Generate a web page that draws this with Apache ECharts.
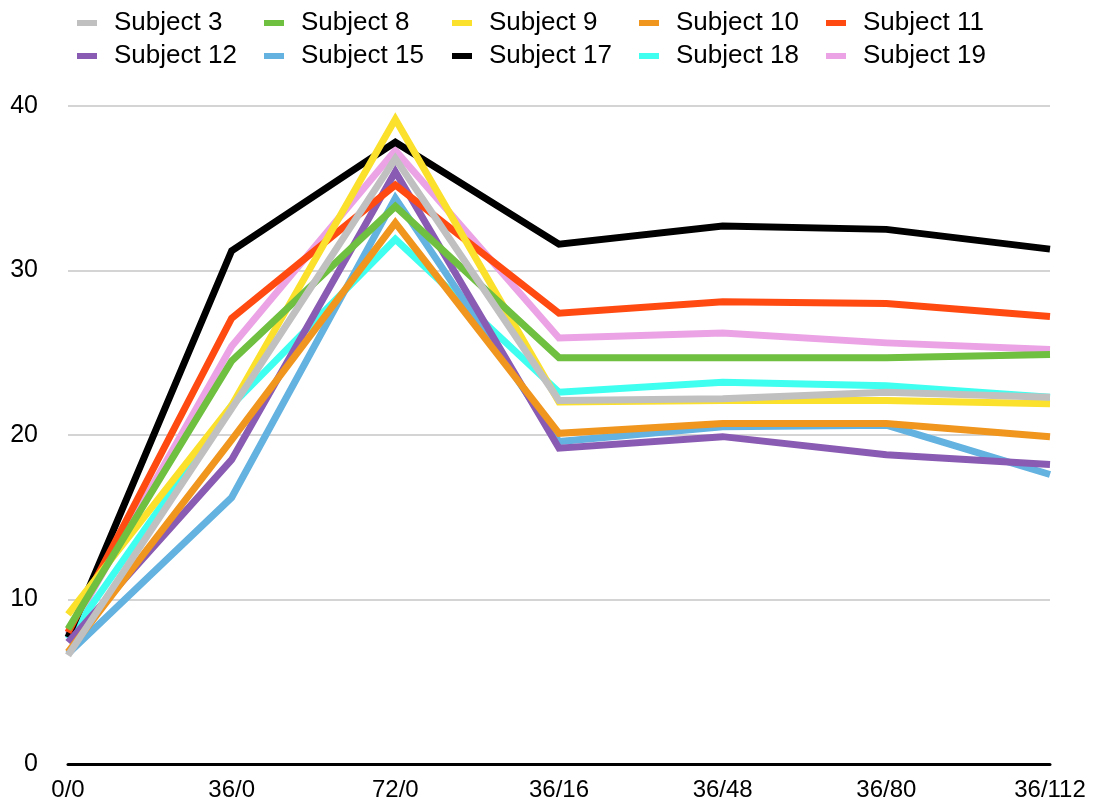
<!DOCTYPE html>
<html>
<head>
<meta charset="utf-8">
<title>Subjects</title>
<script src="https://cdn.jsdelivr.net/npm/echarts@6/dist/echarts.min.js"></script>
<style>
  html, body { margin: 0; padding: 0; background: #ffffff; }
  #chart { width: 1097px; height: 806px; }
</style>
</head>
<body>
<div id="chart"></div>
<script>
// Time points (x axis)
const categories = ['0/0', '36/0', '72/0', '36/16', '36/48', '36/80', '36/112'];

// Y axis ticks
const yTicks = [0, 10, 20, 30, 40];

// Per-subject values
const subject3  = [6.6, 21.6, 36.8, 22.1, 22.2, 22.6, 22.3];
const subject8  = [8.2, 24.5, 33.9, 24.7, 24.7, 24.7, 24.9];
const subject9  = [9.1, 21.8, 39.2, 22.0, 22.1, 22.1, 21.9];
const subject10 = [6.8, 19.7, 32.9, 20.1, 20.7, 20.7, 19.9];
const subject11 = [8.0, 27.1, 35.2, 27.4, 28.1, 28.0, 27.2];
const subject12 = [7.4, 18.5, 36.0, 19.2, 19.9, 18.8, 18.2];
const subject15 = [6.7, 16.2, 34.4, 19.6, 20.5, 20.6, 17.6];
const subject17 = [7.7, 31.2, 37.8, 31.6, 32.7, 32.5, 31.3];
const subject18 = [7.6, 21.8, 31.9, 22.6, 23.2, 23.0, 22.3];
const subject19 = [7.9, 25.4, 37.3, 25.9, 26.2, 25.6, 25.2];

const names = ['Subject 3', 'Subject 8', 'Subject 9', 'Subject 10', 'Subject 11',
               'Subject 12', 'Subject 15', 'Subject 17', 'Subject 18', 'Subject 19'];
const values = [subject3, subject8, subject9, subject10, subject11,
                subject12, subject15, subject17, subject18, subject19];
const colors = ['#c0c0c0', '#6fbf40', '#fbe02c', '#f0951e', '#ff4a12',
                '#8a5bb2', '#63b2e0', '#000000', '#3ffff0', '#eba3e5'];

const FONT = '"Liberation Sans", Arial, Helvetica, sans-serif';

// One legend per entry so the two rows line up in fixed columns
const legendCols = [77, 264, 452, 639, 826];
const legendRows = [9, 42];
const legends = names.map((name, i) => ({
  data: [name],
  left: legendCols[i % 5],
  top: legendRows[Math.floor(i / 5)],
  padding: 0,
  icon: 'rect',
  itemWidth: 20,
  itemHeight: 6,
  selectedMode: true,
  textStyle: {
    fontFamily: FONT,
    fontSize: 26,
    color: '#000000',
    lineHeight: 28,
    padding: [0, 0, 0, 12]
  }
}));

// Earlier subjects are drawn on top of later ones
const series = names.map((name, i) => ({
  name: name,
  type: 'line',
  data: values[i],
  z: 30 - i,
  symbol: 'none',
  showSymbol: false,
  color: colors[i],
  lineStyle: { width: 7, color: colors[i], join: 'miter', cap: 'butt' },
  emphasis: { disabled: true },
  animation: false
}));

const chart = echarts.init(document.getElementById('chart'), null, { renderer: 'canvas' });
chart.setOption({
  backgroundColor: '#ffffff',
  animation: false,
  legend: legends,
  grid: { left: 68, right: 47, top: 106, bottom: 42, containLabel: false },
  xAxis: {
    type: 'category',
    data: categories,
    boundaryGap: false,
    axisLine: { show: true, lineStyle: { color: '#000000', width: 3 } },
    axisTick: { show: false },
    axisLabel: { fontFamily: FONT, fontSize: 24, color: '#000000', margin: 14, interval: 0 },
    splitLine: { show: false }
  },
  yAxis: {
    type: 'value',
    min: yTicks[0],
    max: yTicks[yTicks.length - 1],
    interval: 10,
    axisLine: { show: false },
    axisTick: { show: false },
    axisLabel: { fontFamily: FONT, fontSize: 25, color: '#000000', margin: 30 },
    splitLine: { show: true, lineStyle: { color: '#c6c6c6', width: 1.5 } }
  },
  series: series
});
</script>
</body>
</html>
